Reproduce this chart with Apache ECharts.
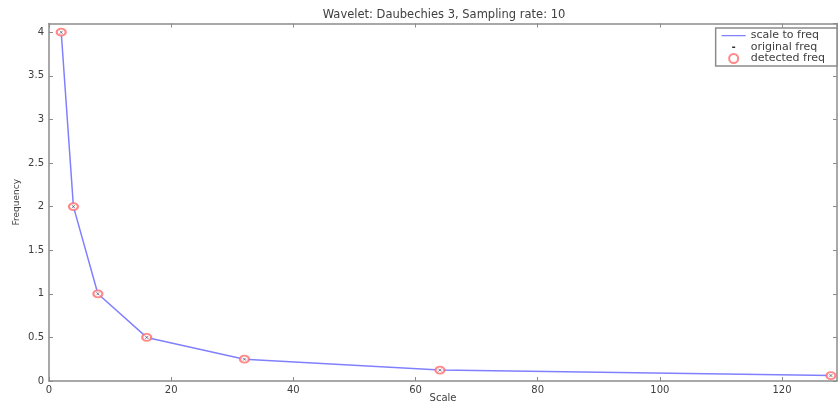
<!DOCTYPE html>
<html>
<head>
<meta charset="utf-8">
<script src="https://cdn.jsdelivr.net/npm/echarts@6/dist/echarts.min.js"></script>
<style>
  html, body { margin: 0; padding: 0; background: #fff; }
  #chart { width: 840px; height: 405px; }
</style>
</head>
<body>
<div id="chart"></div>
<script>
// Wavelet scales and the pseudo-frequencies they map to
const scales = [2, 4, 8, 16, 32, 64, 128];
const scaleToFreq = [4, 2, 1, 0.5, 0.25, 0.125, 0.0625];
const originalFreq = [4, 2, 1, 0.5, 0.25, 0.125, 0.0625];
const detectedFreq = [4, 2, 1, 0.5, 0.25, 0.125, 0.0625];

const titleText = 'Wavelet: Daubechies 3, Sampling rate: 10';
const xName = 'Scale';
const yName = 'Frequency';
const seriesNames = ['scale to freq', 'original freq', 'detected freq'];

const pairs = (xs, ys) => xs.map((x, i) => [x, ys[i]]);

const FONT = 'DejaVu Sans';
const AXIS = '#8c8c8c';
const TEXT = '#404040';
const BLUE = '#8080ff';
const RED = '#ff6a6a';
const DARK = '#303030';

// Legend icons: tiny corner specks keep the glyph at its drawn size inside the 24x9 icon box
const SPECKS = 'M0,0L0.01,0L0.01,0.01Z M24,9L23.99,9L23.99,8.99Z ';
const lineIcon = 'path://' + SPECKS + 'M0,4L24,4L24,5.2L0,5.2Z';
const dashIcon = 'path://' + SPECKS + 'M10.5,4L13.5,4L13.5,5.4L10.5,5.4Z';

const chart = echarts.init(document.getElementById('chart'), null, { renderer: 'canvas' });

const baseAxis = {
  type: 'value',
  axisLine: { show: true, onZero: false, lineStyle: { color: AXIS, width: 1.5 } },
  axisTick: { show: true, inside: true, length: 4, lineStyle: { color: AXIS } },
  splitLine: { show: false },
  axisLabel: { color: TEXT, fontFamily: FONT, fontSize: 10, showMaxLabel: false }
};

chart.setOption({
  animation: false,
  title: {
    text: titleText,
    left: 439, top: 4, textAlign: 'center',
    textStyle: { fontFamily: FONT, fontSize: 11.5, fontWeight: 'normal', color: TEXT }
  },
  grid: { left: 49, top: 23.5, right: 3, bottom: 24, outerBoundsMode: 'none', containLabel: false },
  legend: {
    orient: 'vertical',
    right: 3, top: 28,
    padding: [2, 12, 2, 6],
    itemGap: 0.5,
    itemWidth: 24, itemHeight: 9,
    borderColor: AXIS, borderWidth: 1.5,
    backgroundColor: '#fff',
    textStyle: { fontFamily: FONT, fontSize: 11, lineHeight: 10, color: TEXT },
    data: [
      { name: seriesNames[0], icon: lineIcon, itemStyle: { color: BLUE, borderWidth: 0 } },
      { name: seriesNames[1], icon: dashIcon, itemStyle: { color: DARK, borderWidth: 0, opacity: 1 } },
      { name: seriesNames[2], icon: 'emptyCircle' }
    ]
  },
  xAxis: [
    Object.assign({}, baseAxis, {
      min: 0, max: 129, interval: 20,
      name: xName, nameLocation: 'middle', nameGap: 12, nameMoveOverlap: false,
      nameTextStyle: { fontFamily: FONT, fontSize: 10, color: TEXT },
      axisLabel: Object.assign({}, baseAxis.axisLabel, { margin: 4 })
    }),
    Object.assign({}, baseAxis, {
      position: 'top', min: 0, max: 129, interval: 20,
      axisLabel: { show: false }
    })
  ],
  yAxis: [
    Object.assign({}, baseAxis, {
      min: 0, max: 4.1, interval: 0.5,
      name: yName, nameLocation: 'middle', nameGap: 28, nameMoveOverlap: false,
      nameTextStyle: { fontFamily: FONT, fontSize: 9, color: TEXT },
      axisLabel: Object.assign({}, baseAxis.axisLabel, { margin: 5 })
    }),
    Object.assign({}, baseAxis, {
      position: 'right', min: 0, max: 4.1, interval: 0.5,
      axisLabel: { show: false }
    })
  ],
  series: [
    {
      name: seriesNames[0], type: 'line',
      data: pairs(scales, scaleToFreq),
      symbol: 'none',
      lineStyle: { color: BLUE, width: 1.5 },
      itemStyle: { color: BLUE },
      z: 2
    },
    {
      name: seriesNames[1], type: 'scatter',
      data: pairs(scales, originalFreq),
      symbol: 'path://M0,0L10,10M10,0L0,10',
      symbolSize: 3,
      itemStyle: { color: DARK, borderColor: DARK, borderWidth: 0.8, opacity: 0.7 },
      z: 4
    },
    {
      name: seriesNames[2], type: 'scatter',
      data: pairs(scales, detectedFreq),
      symbol: 'emptyCircle',
      symbolSize: [9, 7],
      itemStyle: { color: RED, borderColor: RED, borderWidth: 1.2 },
      z: 3
    }
  ]
});
</script>
</body>
</html>
